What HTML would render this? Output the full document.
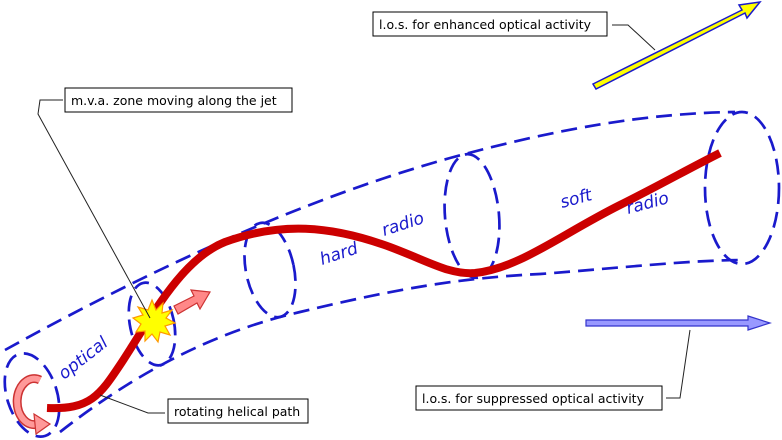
<!DOCTYPE html><html><head><style>body{margin:0;background:#fff}svg{display:block}</style></head><body>
<svg width="782" height="440" viewBox="0 0 782 440" xmlns="http://www.w3.org/2000/svg" font-family="DejaVu Sans, sans-serif">
<g fill="none" stroke="#1a1acc" stroke-width="2.7" stroke-dasharray="16,8">
<path d="M5,350 C150,270 300,200 450,158 C560,128 650,113 735,112"/>
<path d="M60,432 C120,385 200,335 300,312 C400,288 460,278 540,274 C620,268 690,260 745,260"/>
<ellipse cx="32" cy="395" rx="25" ry="43" transform="rotate(-18 32 395)"/>
<ellipse cx="152" cy="324" rx="22" ry="42" transform="rotate(-12 152 324)"/>
<ellipse cx="270" cy="270" rx="24" ry="48" transform="rotate(-12 270 270)"/>
<ellipse cx="472" cy="216" rx="27" ry="62" transform="rotate(-5 472 216)"/>
<ellipse cx="742" cy="188" rx="37" ry="76"/>
</g>
<path d="M47,408 C90,410 100,395 120,365 C150,320 180,260 225,242 C280,222 330,225 390,247 C430,262 450,275 475,273 C520,268 560,235 620,205 C660,185 690,168 720,153" fill="none" stroke="#cc0000" stroke-width="8"/>
<path d="M40,380 A17,23 0 1 0 38,424" fill="none" stroke="#c33" stroke-width="9"/>
<path d="M40,380 A17,23 0 1 0 38,424" fill="none" stroke="#f99" stroke-width="6"/>
<polygon points="34,414 50,424 36,434" fill="#f99" stroke="#c33" stroke-width="1.2"/>
<path d="M174,306 L194,296 L191,290 L210,292 L200,309 L197,303 L178,314 Z" fill="#f88" stroke="#c33" stroke-width="1.2"/>
<polygon points="152,300 156,310 163,303 162,313 172,310 166,318 175,323 165,326 170,335 160,332 158,342 152,334 145,341 145,331 136,332 141,324 133,318 143,315 138,307 148,310" fill="#ff0" stroke="#f90" stroke-width="1.2"/>
<polygon points="593,84 742,10 739,5 760,2 747,18 745,13 596,89" fill="#ff0" stroke="#1a1acc" stroke-width="1.5"/>
<polygon points="586,320 748,320 748,316 770,323 748,330 748,326 586,326" fill="#99f" stroke="#33c" stroke-width="1.2"/>
<g fill="none" stroke="#222" stroke-width="1">
<path d="M63,100 L40,100 L38,114 L150,318"/>
<path d="M612,25 L628,25 L655,50"/>
<path d="M666,398 L680,398 L690,330"/>
<path d="M100,395 L148,413 L165,413"/>
</g>
<g fill="#fff" stroke="#000" stroke-width="1">
<rect x="65" y="88" width="227" height="24"/>
<rect x="168" y="399" width="140" height="24"/>
<rect x="373" y="12" width="234" height="24"/>
<rect x="416" y="386" width="246" height="24"/>
</g>
<g font-size="12.5" fill="#000">
<text x="71" y="105">m.v.a. zone moving along the jet</text>
<text x="174" y="416">rotating helical path</text>
<text x="379" y="29">l.o.s. for enhanced optical activity</text>
<text x="422" y="403">l.o.s. for suppressed optical activity</text>
</g>
<g font-size="17" font-style="italic" fill="#1a1acc">
<text transform="translate(64,380) rotate(-38)">optical</text>
<text transform="translate(322,265) rotate(-18)">hard</text>
<text transform="translate(384,236) rotate(-18)">radio</text>
<text transform="translate(562,208) rotate(-15)">soft</text>
<text transform="translate(628,214) rotate(-15)">radio</text>
</g>
</svg></body></html>
